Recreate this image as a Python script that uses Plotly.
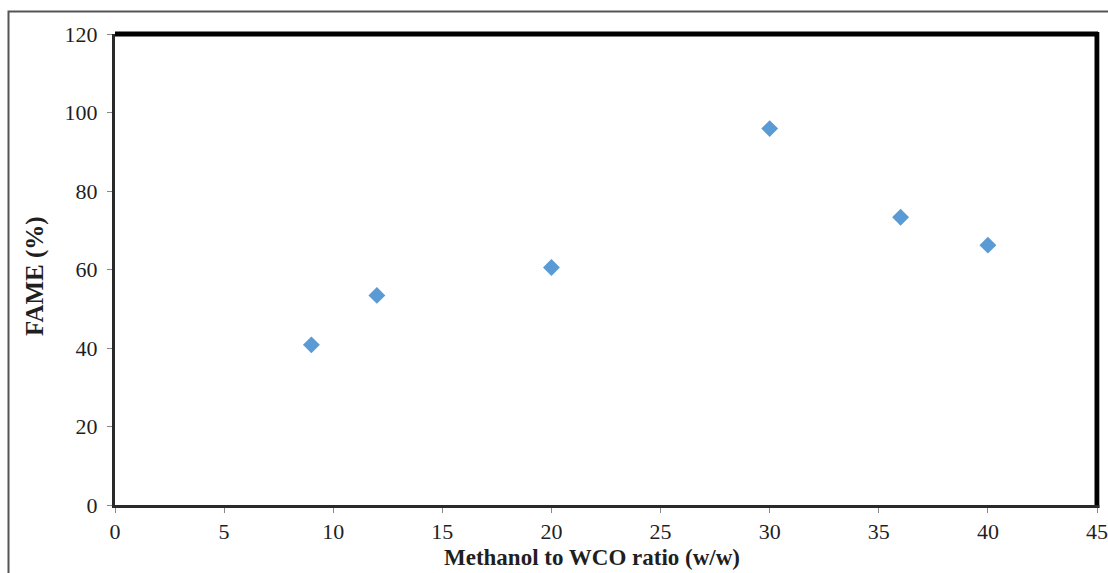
import plotly.graph_objects as go

ratio = [9, 12, 20, 30, 36, 40]
fame = [40.8, 53.4, 60.5, 95.9, 73.3, 66.2]

x_ticks = [0, 5, 10, 15, 20, 25, 30, 35, 40, 45]
y_ticks = [0, 20, 40, 60, 80, 100, 120]

FONT = "Liberation Serif"
TXT = "#1f1f1f"

W, H = 1108, 573
L, R, T, B = 115, 0, 34, 68
PW, PH = W - L - R, H - T - B

fig = go.Figure()
fig.add_trace(go.Scatter(
    x=ratio, y=fame, mode="markers",
    marker=dict(symbol="diamond", size=13, color="#5b9bd5",
                line=dict(width=0)),
    showlegend=False,
))

axis_common = dict(
    showgrid=False, zeroline=False, showline=True,
    linecolor="#2a2a2a", linewidth=3,
    ticks="outside", ticklen=5, tickwidth=1, tickcolor="#888888",
    tickfont=dict(family=FONT, size=22, color=TXT),
)

# the visible x range is extended so that 0..45 spans page pixels 115..1097
XMAX_VIS = 45 * (W - L) / (1097 - L)
fig.update_xaxes(range=[0, XMAX_VIS], tickvals=x_ticks, **axis_common)
fig.update_yaxes(range=[0, 120], tickvals=y_ticks, ticklabelstandoff=5,
                 **axis_common)

def xp(px):
    return (px - L) / PW

def yp(py):
    return (T + PH - py) / PH

fig.add_annotation(text="<b>Methanol to WCO ratio (w/w)</b>", xref="paper", yref="paper",
                   x=xp(592), y=yp(557), xanchor="center", yanchor="middle",
                   showarrow=False, font=dict(family=FONT, size=23, color=TXT))
fig.add_annotation(text="<b>FAME (%)</b>", xref="paper", yref="paper", textangle=-90,
                   x=xp(35), y=yp(276), xanchor="center", yanchor="middle",
                   showarrow=False, font=dict(family=FONT, size=25, color=TXT))

# thick top and right borders of the plot area (right border at x = 45)
fig.add_shape(type="line", xref="x", yref="paper", x0=0, x1=45.05, y0=1.0, y1=1.0,
              line=dict(color="black", width=5))
fig.add_shape(type="line", xref="x", yref="paper", x0=45, x1=45, y0=0, y1=1.004,
              line=dict(color="black", width=5))
# cover the axis lines beyond x = 45
fig.add_shape(type="rect", xref="x", yref="paper", x0=45.12, x1=XMAX_VIS + 1, y0=-0.012, y1=1.012,
              line=dict(width=0), fillcolor="white", layer="above")
# outer frame
fig.add_shape(type="rect", xref="paper", yref="paper",
              x0=xp(8.5), x1=1.05, y0=-0.3, y1=yp(11.5),
              line=dict(color="#555555", width=2), fillcolor="rgba(0,0,0,0)")

fig.update_layout(
    width=W, height=H, autosize=False,
    margin=dict(l=L, r=R, t=T, b=B),
    paper_bgcolor="white", plot_bgcolor="white",
    font=dict(family=FONT, color=TXT),
)

fig.write_html(
    "out.html",
    config={"responsive": False, "displayModeBar": False},
    post_script="document.documentElement.style.overflow='hidden';document.body.style.margin='0';document.body.style.overflow='hidden';",
)
